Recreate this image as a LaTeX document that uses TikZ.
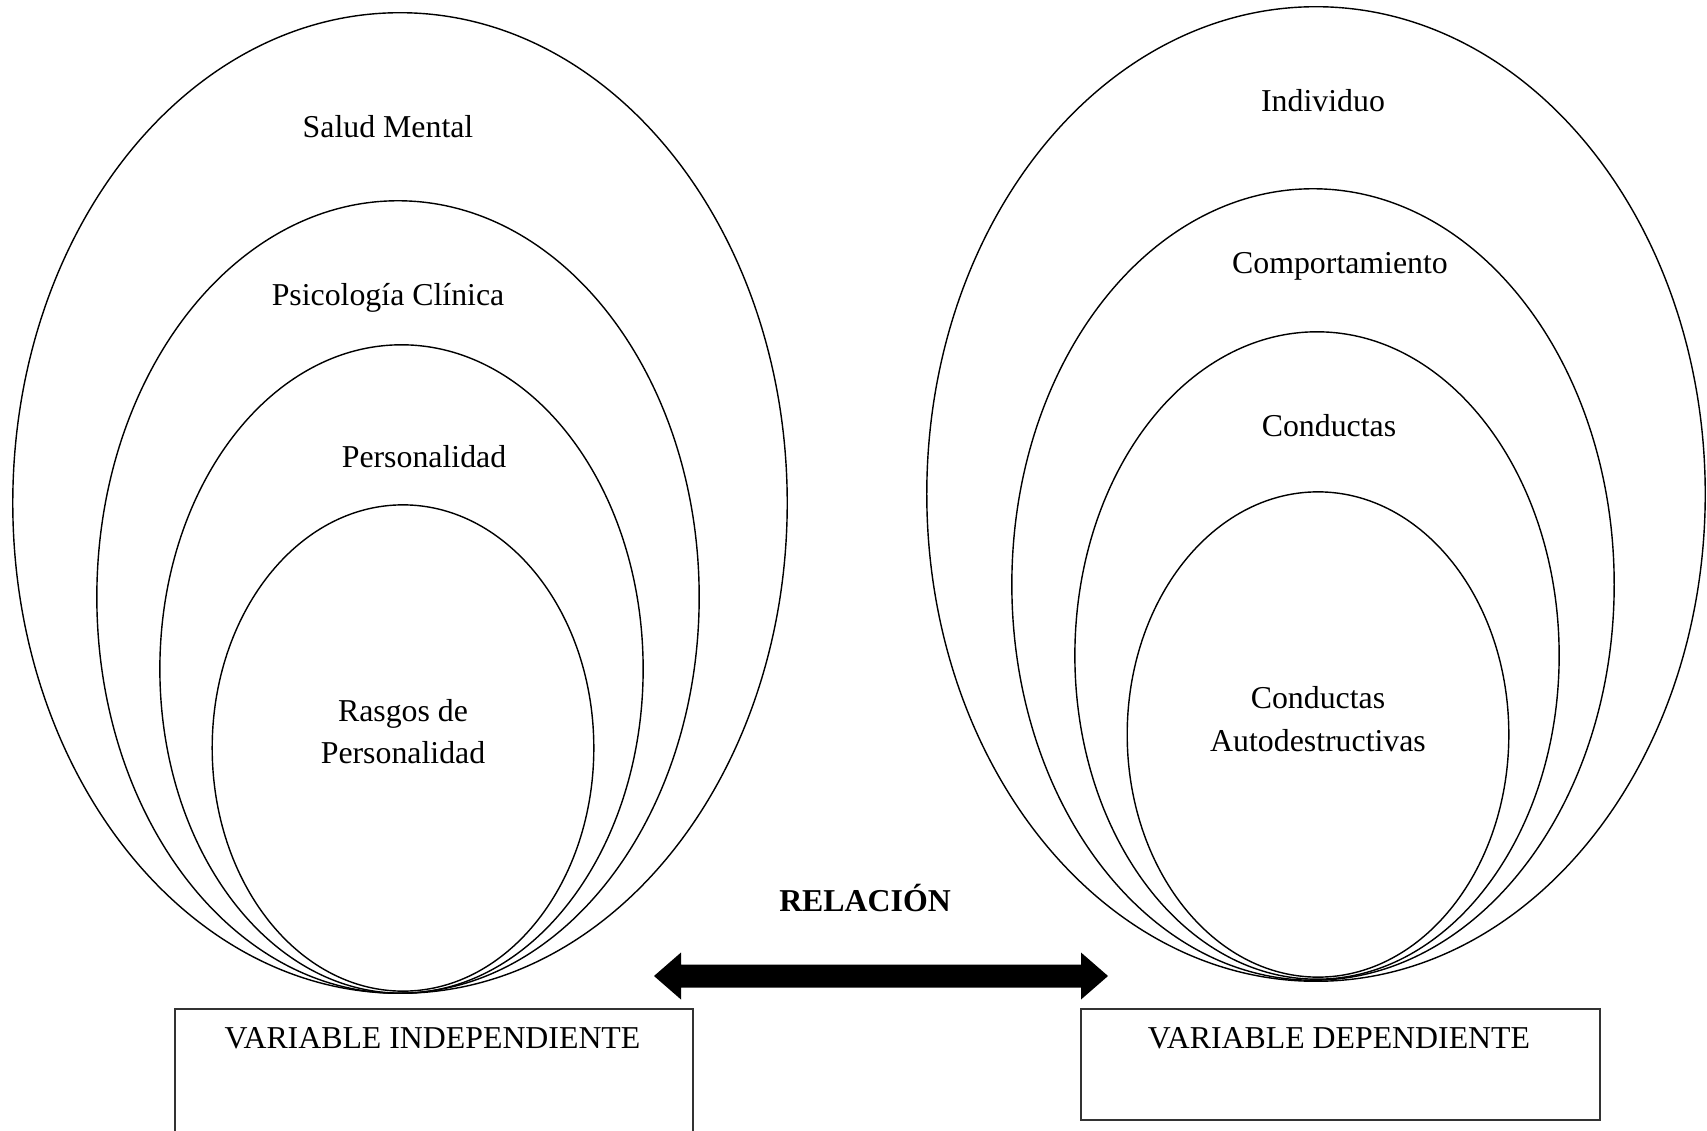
\documentclass[tikz,border=0pt]{standalone}
\usepackage{fontspec}
\setmainfont{Liberation Serif}
\begin{document}
\begin{tikzpicture}[x=0.01cm,y=-0.01cm,
  ring/.style={draw=black, line width=0.4pt},
  lbl/.style={inner sep=0pt, font=\fontsize{9.05}{12.1}\selectfont, align=center},
  varbox/.style={draw=black!80, line width=0.6pt, inner sep=0pt}]
\useasboundingbox (0,0) rectangle (1707,1131);
\clip (0,0) rectangle (1707,1131);
% left nested ellipses
\draw[ring] (400,503) ellipse [x radius=3.87cm, y radius=4.90cm];
\draw[ring] (398,597) ellipse [x radius=3.01cm, y radius=3.96cm];
\draw[ring] (401.5,669) ellipse [x radius=2.415cm, y radius=3.24cm];
\draw[ring] (403,748) ellipse [x radius=1.907cm, y radius=2.43cm];
% right nested ellipses
\draw[ring] (1316,494) ellipse [x radius=3.89cm, y radius=4.87cm];
\draw[ring] (1313,584.5) ellipse [x radius=3.01cm, y radius=3.955cm];
\draw[ring] (1317,655.5) ellipse [x radius=2.42cm, y radius=3.235cm];
\draw[ring] (1318,734.5) ellipse [x radius=1.907cm, y radius=2.425cm];
% labels left
\node[lbl, anchor=base] (salud) at (388,138) {Salud Mental};
\node[lbl, anchor=base] (psico) at (388,305.5) {Psicología Clínica};
\node[lbl, anchor=base] (perso) at (424,467.5) {Personalidad};
\node[lbl, anchor=center] (rasgos) at (403,731.5) {Rasgos de\\Personalidad};
% labels right
\node[lbl, anchor=base] (indiv) at (1323,111.5) {Individuo};
\node[lbl, anchor=base] (comp) at (1340,274) {Comportamiento};
\node[lbl, anchor=base] (cond) at (1329,436.5) {Conductas};
\node[lbl, anchor=center] (autod) at (1318,719) {Conductas\\Autodestructivas};
% relation
\node[lbl, anchor=base, font=\fontsize{9.05}{12.1}\selectfont\bfseries] (rel) at (865,911) {RELACIÓN};
\coordinate (aL) at (654,976);
\coordinate (aR) at (1108,976);
\fill[black] (aL) -- ++(27,-23.5) -- ++(0,12) -- ++(400,0) -- ++(0,-12) -- (aR)
  -- ++(-27,23.5) -- ++(0,-12) -- ++(-400,0) -- ++(0,12) -- cycle;
% variable boxes
\node[varbox, anchor=north west, minimum width=5.179cm, minimum height=1.6cm] (vi) at (173.6,1007.7) {};
\node[lbl, anchor=base] (vitext) at (432.5,1048) {VARIABLE INDEPENDIENTE};
\node[varbox, anchor=north west, minimum width=5.19cm, minimum height=1.11cm] (vd) at (1080,1008) {};
\node[lbl, anchor=base] (vdtext) at (1339,1048) {VARIABLE DEPENDIENTE};
\end{tikzpicture}
\end{document}
